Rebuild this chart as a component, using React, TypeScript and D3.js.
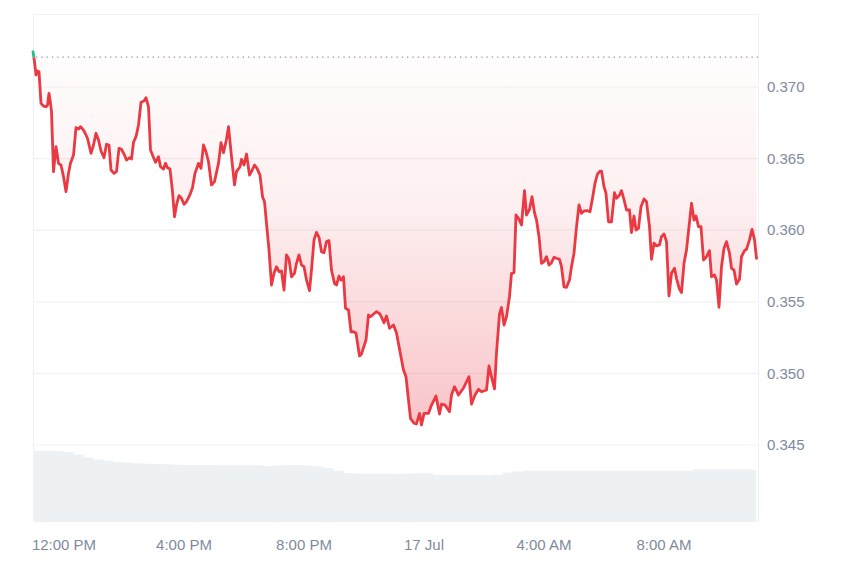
import React from "react";
import * as d3 from "d3";

// Time offsets in minutes from the chart start (16 Jul, 10:58)
const minutes = [0,3,6,9,12,16,21,26,29,32,35,37,41,46,51,56,61,66,71,75,81,86,91,95,102,109,116,121,126,131,136,142,147,152,156,162,167,172,177,183,187,193,197,201,206,211,216,222,226,231,235,239,245,251,255,261,265,269,274,279,283,287,292,297,302,307,313,319,324,331,336,341,346,351,357,363,371,376,381,387,391,397,403,407,414,417,422,427,433,437,443,448,454,459,463,467,472,477,482,487,492,497,502,507,512,517,523,527,532,537,542,547,553,557,562,567,572,577,582,587,592,597,603,607,612,616,621,625,631,636,641,646,653,657,666,671,675,683,687,694,702,707,713,721,727,734,741,746,751,755,762,767,773,777,782,791,797,806,813,817,824,833,837,843,851,861,872,877,884,891,897,907,912,917,923,927,933,937,942,947,953,957,962,966,971,977,983,987,993,998,1003,1007,1012,1017,1022,1027,1032,1037,1042,1047,1053,1057,1062,1067,1073,1077,1082,1087,1092,1097,1102,1109,1114,1119,1124,1129,1134,1137,1142,1146,1151,1157,1163,1167,1173,1177,1183,1187,1193,1197,1202,1206,1211,1216,1222,1227,1233,1237,1242,1247,1253,1257,1262,1267,1272,1277,1283,1287,1293,1297,1302,1307,1312,1317,1322,1326,1331,1336,1341,1347,1353,1357,1363,1367,1372,1377,1382,1387,1393,1397,1402,1407,1413,1417,1423,1427,1433,1438,1443,1447];

const prices = [
  0.37246, 0.37177, 0.37084, 0.37112, 0.37107, 0.36886, 0.36867, 0.36862, 0.36874, 0.36956,
  0.36886, 0.36828, 0.36409, 0.36583, 0.36467, 0.36455, 0.36374, 0.36269, 0.36397, 0.36467,
  0.36525, 0.36716, 0.36707, 0.36723, 0.36693, 0.36642, 0.36537, 0.36595, 0.36677, 0.36630,
  0.36553, 0.36506, 0.36600, 0.36595, 0.36420, 0.36397, 0.36409, 0.36572, 0.36565, 0.36525,
  0.36490, 0.36506, 0.36497, 0.36614, 0.36653, 0.36735, 0.36893, 0.36902, 0.36925, 0.36862,
  0.36560, 0.36525, 0.36474, 0.36513, 0.36443, 0.36427, 0.36467, 0.36436, 0.36427, 0.36269,
  0.36094, 0.36176, 0.36241, 0.36223, 0.36181, 0.36199, 0.36241, 0.36297, 0.36397, 0.36467,
  0.36432, 0.36595, 0.36548, 0.36478, 0.36316, 0.36339, 0.36467, 0.36611, 0.36541, 0.36635,
  0.36723, 0.36513, 0.36316, 0.36409, 0.36443, 0.36495, 0.36455, 0.36532, 0.36385, 0.36409,
  0.36455, 0.36432, 0.36385, 0.36234, 0.36199, 0.36048, 0.35862, 0.35617, 0.35699, 0.35745,
  0.35710, 0.35715, 0.35582, 0.35827, 0.35797, 0.35675, 0.35699, 0.35769, 0.35827, 0.35757,
  0.35745, 0.35652, 0.35578, 0.35722, 0.35932, 0.35985, 0.35950, 0.35850, 0.35843, 0.35920,
  0.35927, 0.35722, 0.35629, 0.35617, 0.35680, 0.35652, 0.35675, 0.35455, 0.35443, 0.35291,
  0.35291, 0.35280, 0.35122, 0.35136, 0.35233, 0.35408, 0.35396, 0.35420, 0.35431, 0.35415,
  0.35354, 0.35401, 0.35315, 0.35338, 0.35282, 0.35152, 0.35024, 0.34977, 0.34814, 0.34686,
  0.34652, 0.34647, 0.34721, 0.34640, 0.34721, 0.34721, 0.34779, 0.34842, 0.34716, 0.34786,
  0.34779, 0.34733, 0.34849, 0.34907, 0.34849, 0.34898, 0.34977, 0.34786, 0.34849, 0.34889,
  0.34872, 0.34884, 0.35052, 0.34975, 0.34891, 0.35143, 0.35415, 0.35460, 0.35338, 0.35396,
  0.35536, 0.35699, 0.35703, 0.36106, 0.36083, 0.36036, 0.36276, 0.36106, 0.36146, 0.36234,
  0.36122, 0.36071, 0.35955, 0.35769, 0.35780, 0.35815, 0.35757, 0.35773, 0.35811, 0.35804,
  0.35797, 0.35745, 0.35605, 0.35601, 0.35652, 0.35745, 0.35839, 0.36024, 0.36176, 0.36118,
  0.36134, 0.36136, 0.36129, 0.36223, 0.36328, 0.36392, 0.36413, 0.36413, 0.36304, 0.36258,
  0.36059, 0.36059, 0.36262, 0.36223, 0.36246, 0.36276, 0.36199, 0.36141, 0.36141, 0.35983,
  0.36099, 0.36001, 0.36013, 0.36164, 0.36218, 0.36199, 0.36024, 0.35797, 0.35909, 0.35890,
  0.35897, 0.35955, 0.35974, 0.35920, 0.35541, 0.35699, 0.35734, 0.35664, 0.35587, 0.35564,
  0.35769, 0.35862, 0.36024, 0.36188, 0.36071, 0.36099, 0.36024, 0.36024, 0.35792, 0.35815,
  0.35857, 0.35675, 0.35687, 0.35652, 0.35462, 0.35745, 0.35874, 0.35920, 0.35839, 0.35734,
  0.35722, 0.35624, 0.35657, 0.35815, 0.35857, 0.35867, 0.35932, 0.36006, 0.35932, 0.35804,
];

// Opening (reference) price shown as the dotted baseline
const basePrice = 0.37208;

// Volume bars, one every 20 minutes (relative units)
const volumes = [
  71.3, 71.3, 71, 70, 67.5, 64.5, 62.5, 61.5, 60, 59.5,
  58.7, 58.3, 58, 57.7, 57.3, 57, 57, 57, 56.8, 56.8,
  56.7, 56.7, 56.7, 56, 56.5, 57, 57, 56.5, 55.5, 54,
  51.5, 49, 48.5, 48.3, 48.3, 48.3, 48, 48.5, 48.7, 48.7,
  47.3, 47, 47, 47, 47, 47, 47.3, 49.5, 50.5, 51.3,
  51.3, 51.3, 51.3, 51.3, 51.3, 51.3, 51.3, 51.3, 51.3, 51.3,
  51.3, 51.3, 51.3, 51.3, 51.3, 51.3, 52.7, 52.7, 52.7, 52.7,
  52.7, 52.7, 52,
];
const volumeStepMinutes = 20;

const yTicks = [0.345, 0.35, 0.355, 0.36, 0.365, 0.37];
const xTickTimes = ["2024-07-16T12:00", "2024-07-16T16:00", "2024-07-16T20:00", "2024-07-17T00:00", "2024-07-17T04:00", "2024-07-17T08:00"];
const xTickLabels = ["12:00 PM", "4:00 PM", "8:00 PM", "17 Jul", "4:00 AM", "8:00 AM"];

const W = 850;
const H = 567;
const LEFT = 33;
const RIGHT = 758;
const TOP = 14;
const BOTTOM = 522;
const FONT = "'Liberation Sans', Arial, Helvetica, sans-serif";
const RED = "#ea3943";
const GREEN = "#16c784";

export default function App() {
  const start = new Date(2024, 6, 16, 10, 58);
  const end = new Date(start.getTime() + 1450 * 60000);
  const x = d3.scaleTime().domain([start, end]).range([LEFT, RIGHT]);
  const y = d3.scaleLinear().domain([0.345, 0.37]).range([445, 87]);
  const vY = d3.scaleLinear().domain([0, 72]).range([BOTTOM, BOTTOM - 72]);

  const data = minutes.map((m, i) => ({ t: new Date(start.getTime() + m * 60000), p: prices[i] }));
  const baseY = y(basePrice);

  const line = d3.line<any>().x((d) => x(d.t)).y((d) => y(d.p)).curve(d3.curveLinear);
  const area = d3.area<any>().x((d) => x(d.t)).y0(baseY).y1((d) => y(d.p)).curve(d3.curveLinear);

  const parse = d3.timeParse("%Y-%m-%dT%H:%M");

  return (
    <div style={{ position: "fixed", left: 0, top: 0, width: W, height: H, background: "#fff" }}>
      <svg width={W} height={H} style={{ display: "block" }}>
        <defs>
          <linearGradient id="redFill" gradientUnits="userSpaceOnUse" x1="0" y1={baseY} x2="0" y2={430}>
            <stop offset="0" stopColor={RED} stopOpacity={0.01} />
            <stop offset="0.4" stopColor={RED} stopOpacity={0.08} />
            <stop offset="1" stopColor={RED} stopOpacity={0.3} />
          </linearGradient>
          <clipPath id="below">
            <rect x={0} y={baseY} width={W} height={H} />
          </clipPath>
          <clipPath id="above">
            <rect x={0} y={0} width={W} height={baseY} />
          </clipPath>
          <clipPath id="plot">
            <rect x={LEFT} y={TOP} width={RIGHT - LEFT} height={BOTTOM - TOP} />
          </clipPath>
        </defs>

        {/* volume bars */}
        <g clipPath="url(#plot)">
          {volumes.map((v, i) => {
            const t0 = new Date(start.getTime() + i * volumeStepMinutes * 60000);
            const t1 = new Date(t0.getTime() + volumeStepMinutes * 60000);
            const x0 = x(t0);
            const x1 = Math.min(x(t1), RIGHT - 2);
            return <rect key={i} x={x0} y={vY(v)} width={Math.max(0, x1 - x0 + 0.3)} height={BOTTOM - vY(v)} fill="#eef1f4" />;
          })}
        </g>

        {/* frame and grid */}
        <line x1={LEFT} x2={RIGHT} y1={TOP + 0.5} y2={TOP + 0.5} stroke="#eff1f4" />
        {yTicks.map((t) => (
          <line key={t} x1={LEFT} x2={RIGHT} y1={y(t)} y2={y(t)} stroke="#eff1f4" strokeWidth={1.2} />
        ))}
        <line x1={LEFT + 0.5} x2={LEFT + 0.5} y1={TOP} y2={BOTTOM} stroke="#eff1f4" />
        <line x1={RIGHT + 0.5} x2={RIGHT + 0.5} y1={TOP} y2={BOTTOM} stroke="#eff1f4" />

        {/* baseline fill */}
        <path d={area(data) || ""} fill="url(#redFill)" clipPath="url(#below)" />

        {/* dotted baseline */}
        <line x1={LEFT + 3} x2={RIGHT} y1={baseY} y2={baseY} stroke="#8f96a3" strokeWidth={1.3} strokeDasharray="1.3 4" />

        {/* price line */}
        <path d={line(data) || ""} fill="none" stroke={RED} strokeWidth={2.8} strokeLinejoin="round" strokeLinecap="round" clipPath="url(#below)" />
        <path d={line(data) || ""} fill="none" stroke={GREEN} strokeWidth={2.8} strokeLinejoin="round" strokeLinecap="round" clipPath="url(#above)" />

        {/* y axis labels */}
        {yTicks.map((t) => (
          <text key={t} x={767} y={y(t)} dy="0.35em" fontFamily={FONT} fontSize={15} fill="#808a9d">
            {d3.format(".3f")(t)}
          </text>
        ))}

        {/* x axis labels */}
        {xTickTimes.map((s, i) => (
          <text key={s} x={x(parse(s) as Date)} y={550} textAnchor="middle" fontFamily={FONT} fontSize={15} fill="#808a9d">
            {xTickLabels[i]}
          </text>
        ))}
      </svg>
    </div>
  );
}
